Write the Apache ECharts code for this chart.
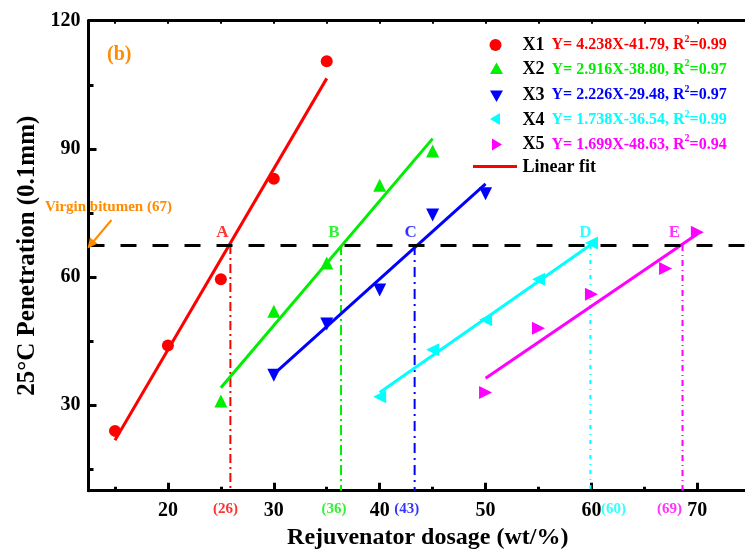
<!DOCTYPE html>
<html>
<head>
<meta charset="utf-8">
<script src="https://cdn.jsdelivr.net/npm/echarts@6/dist/echarts.min.js"></script>
<style>html,body{margin:0;padding:0;background:#fff}#c{width:745px;height:550px}</style>
</head>
<body>
<div id="c"></div>
<script>
// ---- data ----
const seriesNames = ['X1', 'X2', 'X3', 'X4', 'X5'];
const x1X = [15, 20, 25, 30, 35];
const x1Y = [24, 44, 59.5, 83, 110.5];
const x2X = [25, 30, 35, 40, 45];
const x2Y = [31, 52, 63.3, 81.5, 89.5];
const x3X = [30, 35, 40, 45, 50];
const x3Y = [37, 49, 57, 74.5, 79.5];
const x4X = [40, 45, 50, 55, 60];
const x4Y = [32, 43, 50, 59.5, 68];
const x5X = [50, 55, 60, 67, 70];
const x5Y = [33, 48, 56, 62, 70.5];
// linear fit end points [x0, y0, x1, y1]
const fit1 = [15, 21.8, 35, 106.5];
const fit2 = [25, 34.1, 45, 92.4];
const fit3 = [30, 37.3, 50, 81.8];
const fit4 = [40, 33.0, 60, 67.7];
const fit5 = [50, 36.3, 70, 70.1];
const equations = ['Y= 4.238X-41.79, R', 'Y= 2.916X-38.80, R', 'Y= 2.226X-29.48, R', 'Y= 1.738X-36.54, R', 'Y= 1.699X-48.63, R'];
const r2 = ['=0.99', '=0.97', '=0.97', '=0.99', '=0.94'];
const virginLevel = 67.5;
const crossX = [25.9, 36.35, 43.3, 59.9, 68.6];
const crossNames = ['A', 'B', 'C', 'D', 'E'];
const crossValues = ['(26)', '(36)', '(43)', '(60)', '(69)'];
const xTicks = [20, 30, 40, 50, 60, 70];
const xMinor = [15, 25, 35, 45, 55, 65];
const xTop = [15, 20, 25, 30, 35, 40, 45, 50, 55, 60, 65, 70];
const yTicks = [30, 60, 90, 120];
const yMinor = [15, 45, 75, 105];

// ---- styling ----
const colors = ['#FF0000', '#00EE00', '#0000FF', '#00FFFF', '#FF00FF'];
const symbols = ['circle', 'triangle', 'path://M0,0L10,0L5,9Z', 'path://M0,5L9,0L9,10Z', 'path://M0,0L9,5L0,10Z'];
const symSizes = [12, 13, 13, 13, 13];
const dashes = [[9, 4, 2, 4], [10, 4, 2, 4], [10, 5, 2, 5], [4, 5, 1, 5], [6, 4, 1, 4]];
const labelOffsetX = [-8, -7, -4, -5, -8];
const bottomOffsetX = [-5, -7, -8, 23, -13];
const FONT = 'Liberation Serif';
const ORANGE = '#FF8C00';
const XMIN = 12.5, XMAX = 74.5, YMIN = 10, YMAX = 120;

const pts = [[x1X, x1Y], [x2X, x2Y], [x3X, x3Y], [x4X, x4Y], [x5X, x5Y]];
const fits = [fit1, fit2, fit3, fit4, fit5];

const series = [];
// horizontal virgin bitumen line
series.push({
  type: 'line', data: [], silent: true,
  markLine: {
    silent: true, symbol: 'none', label: { show: false },
    lineStyle: { color: '#000', width: 3, type: [16, 16] },
    data: [{ yAxis: virginLevel }]
  }
});
// vertical dash-dot lines
crossX.forEach((cx, i) => {
  series.push({
    type: 'line', data: [[cx, virginLevel], [cx, YMIN]], symbol: 'none', silent: true,
    lineStyle: { color: colors[i], width: 2, type: dashes[i] }, z: 2
  });
});
// fit lines
fits.forEach((f, i) => {
  series.push({
    type: 'line', data: [[f[0], f[1]], [f[2], f[3]]], symbol: 'none', silent: true,
    lineStyle: { color: colors[i], width: 3 }, z: 3
  });
});
// data points
pts.forEach((p, i) => {
  series.push({
    name: seriesNames[i], type: 'scatter', symbol: symbols[i], symbolSize: symSizes[i],
    itemStyle: { color: colors[i], opacity: 1 },
    data: p[0].map((x, k) => [x, p[1][k]]), z: 5
  });
});
// A-E labels above the intersections
series.push({
  type: 'scatter', symbolSize: 0, silent: true, z: 6,
  data: crossX.map((cx, i) => ({
    value: [cx, virginLevel],
    label: {
      show: true, position: 'top', distance: 4, offset: [labelOffsetX[i], 0],
      formatter: crossNames[i], color: colors[i],
      fontFamily: FONT, fontWeight: 'bold', fontSize: 17
    }
  }))
});
// (26) ... values below the axis
series.push({
  type: 'scatter', symbolSize: 0, silent: true, z: 6,
  data: crossX.map((cx, i) => ({
    value: [cx, YMIN],
    label: {
      show: true, position: 'bottom', distance: 11, offset: [bottomOffsetX[i], 0],
      formatter: crossValues[i], color: colors[i],
      fontFamily: FONT, fontWeight: 'bold', fontSize: 15
    }
  }))
});

const axisLbl = { fontFamily: FONT, fontWeight: 'bold', fontSize: 20, color: '#000' };
const option = {
  animation: false,
  grid: { left: 88.5, right: 0, top: 20.7, bottom: 59.3, containLabel: false, outerBoundsMode: 'none' },
  xAxis: [
    {
      type: 'value', min: XMIN, max: XMAX, position: 'bottom',
      axisLine: { lineStyle: { color: '#000', width: 3 } },
      axisTick: { inside: true, length: 8, customValues: xTicks, lineStyle: { color: '#000', width: 3 } },
      axisLabel: Object.assign({ customValues: xTicks, margin: 10 }, axisLbl),
      splitLine: { show: false },
      name: 'Rejuvenator dosage (wt/%)', nameLocation: 'middle', nameGap: 34,
      nameTextStyle: { fontFamily: FONT, fontWeight: 'bold', fontSize: 24, color: '#000', padding: [0, 0, 0, 22] }
    },
    {
      type: 'value', min: XMIN, max: XMAX, position: 'top',
      axisLine: { lineStyle: { color: '#000', width: 3 } },
      axisTick: { inside: true, length: 3, customValues: xTop, lineStyle: { color: '#000', width: 2 } },
      axisLabel: { show: false }, splitLine: { show: false }
    },
    {
      type: 'value', min: XMIN, max: XMAX, position: 'bottom',
      axisLine: { show: false },
      axisTick: { inside: true, length: 4, customValues: xMinor, lineStyle: { color: '#000', width: 3 } },
      axisLabel: { show: false }, splitLine: { show: false }
    }
  ],
  yAxis: [
    {
      type: 'value', min: YMIN, max: YMAX, position: 'left',
      axisLine: { show: true, lineStyle: { color: '#000', width: 3 } },
      axisTick: { show: true, inside: true, length: 8, customValues: yTicks, lineStyle: { color: '#000', width: 3 } },
      axisLabel: Object.assign({ customValues: yTicks, margin: 8 }, axisLbl),
      splitLine: { show: false },
      name: '25°C Penetration (0.1mm)', nameLocation: 'middle', nameGap: 47, nameRotate: 90,
      nameTextStyle: { fontFamily: FONT, fontWeight: 'bold', fontSize: 25, color: '#000' }
    },
    {
      type: 'value', min: YMIN, max: YMAX, position: 'left',
      axisLine: { show: false },
      axisTick: { show: true, inside: true, length: 5, customValues: yMinor, lineStyle: { color: '#000', width: 3 } },
      axisLabel: { show: false }, splitLine: { show: false }
    }
  ],
  series: series,
  graphic: []
};

// legend (drawn as graphics)
const legendRowsY = [45, 69.5, 95, 120, 144.5];
const rich = {};
colors.forEach((c, i) => {
  rich['e' + i] = { fontFamily: FONT, fontWeight: 'bold', fontSize: 16, fill: c };
  rich['s' + i] = { fontFamily: FONT, fontWeight: 'bold', fontSize: 10, fill: c, padding: [0, 0, 12, 0] };
});
const legendMarkers = [
  { type: 'circle', shape: { cx: 495.5, cy: 45, r: 6 } },
  { type: 'polygon', shape: { points: [[496.5, 62.5], [503, 74], [490, 74]] } },
  { type: 'polygon', shape: { points: [[490, 90.5], [503, 90.5], [496.5, 102]] } },
  { type: 'polygon', shape: { points: [[490, 119], [500, 113], [500, 125]] } },
  { type: 'polygon', shape: { points: [[492, 138.5], [502, 144.5], [492, 150.5]] } }
];
legendMarkers.forEach((m, i) => {
  option.graphic.push(Object.assign({ style: { fill: colors[i] }, z: 10 }, m));
  option.graphic.push({
    type: 'text', x: 522.5, y: legendRowsY[i], z: 10,
    style: { text: seriesNames[i], fontFamily: FONT, fontWeight: 'bold', fontSize: 18, fill: '#000', verticalAlign: 'middle' }
  });
  option.graphic.push({
    type: 'text', x: 551.5, y: legendRowsY[i], z: 10,
    style: {
      text: '{e' + i + '|' + equations[i] + '}{s' + i + '|2}{e' + i + '|' + r2[i] + '}',
      rich: rich, fill: colors[i], verticalAlign: 'middle'
    }
  });
});
option.graphic.push({ type: 'line', shape: { x1: 473, y1: 166.5, x2: 517, y2: 166.5 }, style: { stroke: '#FF0000', lineWidth: 3 }, z: 10 });
option.graphic.push({
  type: 'text', x: 522.5, y: 167, z: 10,
  style: { text: 'Linear fit', fontFamily: FONT, fontWeight: 'bold', fontSize: 18, fill: '#000', verticalAlign: 'middle' }
});
// (b) panel label
option.graphic.push({
  type: 'text', x: 107, y: 55, z: 10,
  style: { text: '(b)', fontFamily: FONT, fontWeight: 'bold', fontSize: 20, fill: ORANGE, verticalAlign: 'middle' }
});
// Virgin bitumen annotation
option.graphic.push({
  type: 'text', x: 45, y: 207, z: 10,
  style: { text: 'Virgin bitumen (67)', fontFamily: FONT, fontWeight: 'bold', fontSize: 15, fill: ORANGE, verticalAlign: 'middle' }
});
option.graphic.push({ type: 'line', shape: { x1: 111.5, y1: 220, x2: 93, y2: 242 }, style: { stroke: ORANGE, lineWidth: 2 }, z: 10 });
option.graphic.push({ type: 'polygon', shape: { points: [[87.5, 248.5], [90, 237.5], [97.5, 243.5]] }, style: { fill: ORANGE }, z: 10 });

const chart = echarts.init(document.getElementById('c'), null, { renderer: 'canvas' });
chart.setOption(option);
</script>
</body>
</html>
